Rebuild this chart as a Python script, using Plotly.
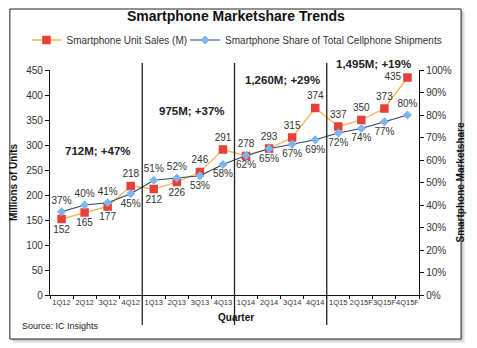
import plotly.graph_objects as go

# Quarterly smartphone data (IC Insights)
quarters = ["1Q12", "2Q12", "3Q12", "4Q12", "1Q13", "2Q13", "3Q13", "4Q13",
            "1Q14", "2Q14", "3Q14", "4Q14", "1Q15", "2Q15F", "3Q15F", "4Q15F"]
unit_sales = [152, 165, 177, 218, 212, 226, 246, 291,
              278, 293, 315, 374, 337, 350, 373, 435]
share_pct = [37, 40, 41, 45, 51, 52, 53, 58,
             62, 65, 67, 69, 72, 74, 77, 80]
years = ["2012", "2013", "2014", "2015"]
yoy_growth = [47, 37, 29, 19]

unit_textpos = ["bottom center"] * 3 + ["top center", "bottom center", "bottom center"] + \
               ["top center"] * 9 + ["middle left"]
share_textpos = ["top center"] * 3 + ["bottom center", "top center", "top center"] + \
                ["bottom center"] * 9 + ["top center"]

W, H = 477, 348
L, R, T, B = 50, 427, 70, 295


def px_x(px):
    return (px - L) / (R - L)


def px_y(py):
    return (B - py) / (B - T)


fig = go.Figure()

fig.add_trace(go.Scatter(
    x=quarters, y=unit_sales, name="Smartphone Unit Sales (M)",
    mode="lines+markers+text", legend="legend",
    line=dict(color="#F5B553", width=1.3),
    marker=dict(symbol="square", size=8.5, color="#E5403A"),
    text=[str(v) for v in unit_sales], textposition=unit_textpos,
    textfont=dict(family="Arial", size=10, color="#333333"),
    cliponaxis=False,
))

fig.add_trace(go.Scatter(
    x=quarters, y=share_pct, name="Smartphone Share of Total Cellphone Shipments",
    mode="lines+markers+text", yaxis="y2", legend="legend2",
    line=dict(color="#27466A", width=1.2),
    marker=dict(symbol="diamond", size=7, color="#7DB5EC"),
    text=[f"{v}%" for v in share_pct], textposition=share_textpos,
    textfont=dict(family="Arial", size=10, color="#333333"),
    cliponaxis=False,
))

shapes = []
# drop shadow and frame around the whole chart
for off, col in [(4, "#ebebeb"), (3, "#dddddd"), (2, "#cccccc")]:
    shapes.append(dict(type="rect", xref="paper", yref="paper",
                       x0=px_x(9 + off), x1=px_x(470 + off),
                       y0=px_y(339 + off), y1=px_y(9 + off),
                       line=dict(width=0), fillcolor=col, layer="below"))
shapes.append(dict(type="rect", xref="paper", yref="paper",
                   x0=px_x(9), x1=px_x(470), y0=px_y(339), y1=px_y(9),
                   line=dict(color="#222222", width=1), fillcolor="white", layer="below"))

# year separators at category boundaries, with yearly totals
annotations = []
n_per_year = len(quarters) // len(years)
for i, yr in enumerate(years):
    if i > 0:
        xb = i * n_per_year - 0.5
        shapes.append(dict(type="line", xref="x", yref="paper",
                           x0=xb, x1=xb, y0=px_y(325), y1=px_y(63),
                           line=dict(color="#222222", width=1.3)))
    total = sum(unit_sales[i * n_per_year:(i + 1) * n_per_year])
    annotations.append(dict(text=f"<b>{total:,}M; +{yoy_growth[i]}%</b>", showarrow=False,
                            font=dict(family="Arial", size=11.5, color="#222222")))

ann_pos = [(px_x(99), px_y(151)), (px_x(195), px_y(111)),
           (px_x(288), px_y(80)), (px_x(381), px_y(64))]
for a, (ax, ay) in zip(annotations, ann_pos):
    a.update(xref="paper", yref="paper", x=ax, y=ay, xanchor="center", yanchor="middle")

annotations += [
    dict(text="<b>Quarter</b>", xref="paper", yref="paper", x=px_x(240), y=px_y(325),
         showarrow=False, font=dict(family="Arial", size=10, color="#111111")),
    dict(text="Source: IC Insights", xref="paper", yref="paper", x=px_x(19), y=px_y(333),
         xanchor="left", showarrow=False, font=dict(family="Arial", size=9, color="#222222")),
]

legend_style = dict(orientation="h", xanchor="left", yanchor="middle", y=px_y(40),
                    font=dict(family="Arial", size=10, color="#333333"),
                    itemwidth=30, bgcolor="rgba(0,0,0,0)")

axis_font = dict(family="Arial", size=10, color="#333333")
fig.update_layout(
    width=W, height=H,
    margin=dict(l=L, r=W - R, t=T, b=H - B),
    paper_bgcolor="white", plot_bgcolor="rgba(0,0,0,0)",
    title=dict(text="<b>Smartphone Marketshare Trends</b>", x=px_x(240), xref="paper",
               xanchor="center", y=1 - 16 / H, yanchor="middle",
               font=dict(family="Arial", size=14, color="#111111")),
    showlegend=True,
    legend=dict(x=px_x(26), **legend_style),
    legend2=dict(x=px_x(188), **legend_style),
    xaxis=dict(type="category", tickson="boundaries", ticks="outside", ticklen=3,
               tickcolor="#111111", showline=True, linecolor="#111111", linewidth=1.3,
               showgrid=False, tickfont=dict(family="Arial", size=7.5, color="#333333"),
               range=[-0.5, len(quarters) - 0.5], tickangle=0),
    yaxis=dict(range=[0, 450], dtick=50, ticks="outside", ticklen=4, tickcolor="#111111",
               showline=True, linecolor="#111111", linewidth=1.3, showgrid=False,
               zeroline=False, tickfont=axis_font,
               title=dict(text="<b>Millions of Units</b>", standoff=6,
                          font=dict(family="Arial", size=10, color="#111111"))),
    yaxis2=dict(range=[0, 100], dtick=10, ticksuffix="%", overlaying="y", side="right",
                ticks="outside", ticklen=4, tickcolor="#111111",
                showline=True, linecolor="#111111", linewidth=1.3, showgrid=False,
                zeroline=False, tickfont=axis_font,
                title=dict(text="<b>Smartphone Marketshare</b>", standoff=6,
                           font=dict(family="Arial", size=10, color="#111111"))),
    shapes=shapes, annotations=annotations,
)

fig.write_html("out.html")
